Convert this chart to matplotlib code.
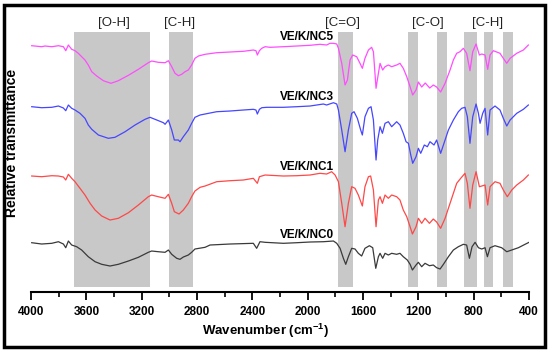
import numpy as np
import matplotlib
matplotlib.use("Agg")
import matplotlib.pyplot as plt
from matplotlib.patches import Rectangle
from matplotlib.ticker import MultipleLocator

plt.rcParams['font.family'] = ['Liberation Sans', 'DejaVu Sans']
plt.rcParams['mathtext.fontset'] = 'custom'
plt.rcParams['mathtext.rm'] = 'Liberation Sans'
plt.rcParams['mathtext.bf'] = 'Liberation Sans:bold'

# FTIR spectra, relative transmittance (arb. units, 0 = level at 4000 cm-1)
wn_nc5 = [3995, 3923, 3899, 3850, 3802, 3766, 3749, 3730, 3706, 3682, 3658, 3634, 3610, 3586,
          3561, 3525, 3477, 3422, 3369, 3296, 3224, 3152, 3128, 3080, 3031, 3007, 2983, 2959,
          2935, 2911, 2887, 2863, 2839, 2815, 2790, 2742, 2658, 2561, 2465, 2393, 2374, 2364,
          2349, 2332, 2308, 2272, 2176, 2079, 1983, 1911, 1863, 1839, 1814, 1790, 1778, 1754,
          1730, 1713, 1694, 1675, 1646, 1622, 1605, 1586, 1561, 1538, 1525, 1506, 1489, 1477,
          1458, 1441, 1417, 1393, 1357, 1333, 1309, 1284, 1260, 1241, 1217, 1200, 1176, 1150,
          1118, 1092, 1068, 1039, 1007, 971, 947, 923, 899, 875, 851, 827, 807, 783, 759, 742,
          718, 699, 682, 658, 610, 586, 561, 537, 489, 441, 405]
t_nc5 = [0.3, -0.7, 0, -0.7, 0.3, -0.7, -4.7, 1, -3.3, -4.7, -7.3, -10.7, -14, -19,
         -25.7, -30, -34.7, -37.3, -34.7, -29.3, -23.3, -16.7, -15, -16.3, -16.7, -14.7, -20.7, -27.3,
         -29.7, -28.3, -25.7, -24, -19, -12.3, -10, -8.3, -6.7, -6, -5.3, -4, -4.7, -9,
         -4.7, -2.3, -0.7, -1.3, -0.7, 0, 0.7, 1.7, 1, 2.7, 2.7, 2, -2.3, -17.3,
         -39, -34, -14, -9, -10.7, -17.3, -22.3, -12.3, -4, -1.3, -5.7, -42.3, -27.3, -17.3,
         -24, -20.7, -19, -20.7, -19, -17.3, -22.3, -30.7, -40.7, -49, -44, -36, -41, -37,
         -42, -39, -41, -46, -37.3, -24, -14, -7.3, -5.7, -2.3, -7.3, -24.7, -5.7, 2, -9, -8,
         -9, -23.3, -9, -4.7, -7.3, -12.3, -17.3, -12.3, -7.3, -4, 1]

wn_nc3 = [3995, 3923, 3850, 3802, 3766, 3749, 3730, 3706, 3682, 3646, 3610, 3586, 3561, 3513,
          3441, 3393, 3320, 3248, 3176, 3140, 3091, 3043, 3031, 3007, 2983, 2964, 2935, 2923,
          2899, 2863, 2839, 2815, 2778, 2742, 2658, 2561, 2465, 2393, 2374, 2364, 2349, 2332,
          2296, 2176, 2079, 1983, 1887, 1863, 1814, 1790, 1778, 1754, 1730, 1706, 1682, 1665,
          1641, 1617, 1605, 1586, 1561, 1542, 1525, 1506, 1494, 1477, 1460, 1441, 1417, 1393,
          1357, 1333, 1309, 1289, 1272, 1255, 1241, 1217, 1200, 1183, 1157, 1135, 1116, 1087,
          1068, 1039, 1015, 983, 947, 911, 887, 863, 846, 827, 807, 783, 766, 754, 735, 718,
          699, 682, 646, 610, 586, 561, 537, 489, 441, 405]
t_nc3 = [0.3, -0.7, -0.3, 1, -1, -3.7, 2, -1.3, -3, -6.3, -11.3, -18, -22.3, -28,
         -31.3, -30.3, -24.7, -18, -12.3, -10.3, -13, -15.7, -17.3, -13, -23, -33, -33, -34.7,
         -29.7, -23, -16.3, -10.3, -8, -7, -4.7, -4, -3, -2.3, -3, -7, -2.3, -0.7,
         -0.3, -0.3, 0.3, 1, 3, 2, 4.3, 3, -3, -23, -44.7, -23, -6.3, -4.7,
         -11.3, -23, -28, -9.7, -1.3, 0.3, -13, -53, -33, -19.7, -26.3, -16.3, -14.7, -19.7,
         -14.7, -18, -26.3, -34.7, -36.3, -48, -56.3, -49.7, -41.3, -46.3, -38, -39.7, -34.7, -38,
         -33, -46.3, -36.3, -23, -13, -4.7, -1.3, -0.3, -9.7, -36.3, -9.7, 3, -6.3, -16.3, -6.3, -1.3,
         -28, -3, 1, -3, -11.3, -19, -13, -6.3, -2.3, 2]

wn_nc1 = [3995, 3923, 3850, 3802, 3766, 3749, 3730, 3706, 3682, 3646, 3610, 3573, 3537, 3489,
          3429, 3369, 3296, 3224, 3152, 3128, 3080, 3031, 3007, 2983, 2964, 2930, 2899, 2863,
          2839, 2815, 2778, 2742, 2658, 2561, 2465, 2393, 2364, 2349, 2308, 2176, 2079, 1983,
          1911, 1863, 1827, 1802, 1778, 1754, 1730, 1706, 1682, 1658, 1634, 1605, 1586, 1561,
          1545, 1525, 1506, 1489, 1477, 1460, 1441, 1417, 1393, 1357, 1333, 1309, 1284, 1260,
          1243, 1217, 1200, 1176, 1152, 1120, 1092, 1068, 1039, 1007, 971, 947, 923, 894,
          863, 846, 827, 807, 783, 759, 742, 718, 699, 682, 646, 610, 586, 557, 525, 489,
          441, 405]
t_nc1 = [0, -0.7, 0.3, 0, -1, -4, 1.7, -2.3, -5.7, -12.3, -19, -27.3, -34, -40,
         -44, -42.3, -36.7, -29, -20.7, -19, -20.7, -22.3, -18.3, -27.3, -35.7, -38, -34, -27.3,
         -20.7, -15, -11.3, -10, -5.7, -4.7, -4, -2.3, -7.3, -0.7, 1, 0, 0.3, 1,
         2.7, 2, 4.3, 1, -5.7, -27.3, -50.7, -27.3, -10.7, -12.3, -19, -30, -10.7, -0.7,
         0, -14, -50.7, -24, -20.7, -27.3, -19, -22.3, -19, -20.7, -24, -34, -40.7, -50.7,
         -58, -50.7, -42.3, -47.3, -42.3, -47.3, -43, -46, -52.3, -42.3, -27.3, -17.3, -7.3, -2.3,
         2.7, -7.3, -32.3, -9, 4.3, -10.7, -10, -9, -29, -10.7, -5.7, -7.3, -14, -20.7, -14, -9,
         -4, 1]

wn_nc0 = [3995, 3923, 3850, 3802, 3766, 3749, 3730, 3706, 3670, 3634, 3586, 3537, 3489, 3429,
          3369, 3296, 3224, 3152, 3128, 3080, 3031, 3007, 2983, 2947, 2923, 2899, 2863, 2839,
          2815, 2742, 2706, 2561, 2393, 2369, 2345, 2308, 2176, 2079, 1983, 1887, 1814, 1790,
          1766, 1742, 1725, 1706, 1682, 1658, 1634, 1610, 1586, 1554, 1530, 1508, 1489, 1477,
          1458, 1441, 1417, 1393, 1357, 1333, 1309, 1280, 1260, 1243, 1217, 1200, 1176, 1152,
          1120, 1092, 1068, 1043, 1019, 983, 947, 911, 875, 851, 831, 812, 790, 766, 742, 718,
          701, 682, 646, 598, 561, 525, 477, 429, 400]
t_nc0 = [0.3, -1, -0.3, 1.3, -1, -4.7, 2, -2, -3.7, -7, -13.7, -18.7, -21.3, -23,
         -21.3, -18, -14.3, -9.3, -8, -8.7, -9.3, -7, -11.3, -15.3, -16.3, -14, -12, -9.3,
         -6, -4.3, -2, -1, -0.3, -5.3, 1.3, 0.7, -0.3, 0.3, 1, 1.3, 2, -0.3,
         -5.3, -15.3, -21.3, -13.7, -5.3, -6, -10.3, -13, -5.3, -2.7, -4.7, -25.3, -13.7, -10.3,
         -15.3, -10.3, -12, -10.3, -11.3, -10.3, -13.7, -17, -21.3, -27, -22, -19.3, -23.7, -20.3,
         -22.7, -22, -24.7, -26, -21.3, -13.7, -7, -3.7, -1.3, -2, -15.3, -3.7, 0.7, -4.7, -6, -4.7,
         -13.7, -4.7, -2.7, -4.7, -8.7, -7, -4.7, -1.3, 0.7]

names = ['VE/K/NC5', 'VE/K/NC3', 'VE/K/NC1', 'VE/K/NC0']
offsets = [197, 136, 67, 0]
colors = ['#ff4dff', '#4646ff', '#ff4848', '#3a3a3a']
label_y = [206, 146, 76, 8]

bands = [(3690, 3140), (3000, 2830), (1778, 1676), (1273, 1205), (1067, 995),
         (870, 776), (728, 660), (586, 518)]
band_names = ['[O-H]', '[C-H]', '[C=O]', '[C-O]', '[C-H]']
band_name_x = [3400, 2923, 1745, 1132, 699]

fig = plt.figure(figsize=(5.5, 3.51), dpi=100)
ax = fig.add_axes([0.0564, 0.1672, 0.9055, 0.7758])

for lo, hi in bands:
    ax.fill_between([hi, lo], -43.7, 210.7, color='#c8c8c8', lw=0, zorder=1)
for x, s in zip(band_name_x, band_names):
    ax.text(x, 220, s, ha='center', va='center', fontsize=9.5, color='#222222')

spectra = [(wn_nc5, t_nc5), (wn_nc3, t_nc3), (wn_nc1, t_nc1), (wn_nc0, t_nc0)]
for (w, t), off, c, name, ly in zip(spectra, offsets, colors, names, label_y):
    ax.plot(w, np.array(t) + off, color=c, lw=0.9, zorder=3)
    ax.text(1810, ly, name, ha='right', va='center', fontsize=8.5, fontweight='bold')

ax.set_xlim(4000, 400)
ax.set_ylim(-49.3, 223)
for s in ['top', 'right', 'left']:
    ax.spines[s].set_visible(False)
ax.spines['bottom'].set_linewidth(1.5)
ax.set_yticks([])
ax.xaxis.set_major_locator(MultipleLocator(400))
ax.xaxis.set_minor_locator(MultipleLocator(200))
ax.tick_params(axis='x', which='major', direction='out', length=6, width=1.3, pad=4)
ax.tick_params(axis='x', which='minor', direction='out', length=3.5, width=1.2)
for lab in ax.get_xticklabels():
    lab.set_fontweight('bold')
    lab.set_fontsize(8.5)
ax.set_xlabel(r'Wavenumber (cm$^{\mathbf{-1}}$)', fontsize=9.5, fontweight='bold')
ax.xaxis.set_label_coords(0.472, -0.11)
ax.set_ylabel('Relative transmittance', fontsize=10, fontweight='bold')
ax.yaxis.set_label_coords(-0.024, 0.55)

fig.patches.append(Rectangle((0.007, 0.012), 0.984, 0.974, transform=fig.transFigure,
                             fill=False, ec='black', lw=2.5))

fig.savefig('out.png', dpi=100)
